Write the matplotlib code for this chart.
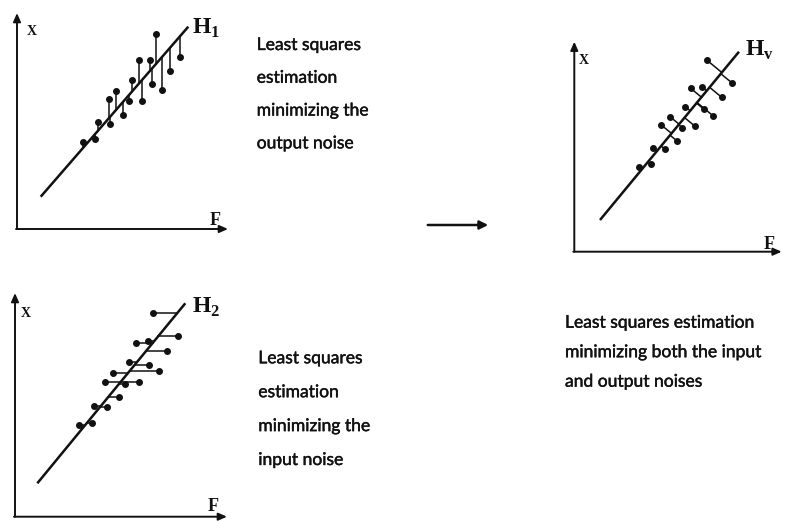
import numpy as np
import matplotlib
matplotlib.use("Agg")
from matplotlib import pyplot as plt
import matplotlib.patheffects as pe

W, H = 799, 521

# Panel 1: least squares on output noise (vertical residuals)
p1_line_f = [23.7, 171.3]
p1_line_x = [32.3, 202.3]
p1_f = [65.7, 78.0, 80.7, 91.7, 93.0, 99.3, 106.3, 112.3, 115.3, 122.3, 124.7, 133.0, 135.0, 138.7, 144.7, 153.0, 163.3]
p1_x = [87.3, 89.7, 106.7, 130.0, 104.7, 138.0, 114.0, 128.0, 149.0, 169.0, 128.3, 169.0, 145.0, 195.0, 139.0, 158.0, 172.3]

# Panel 2: least squares on input noise (horizontal residuals)
p2_line_f = [22.3, 170.3]
p2_line_x = [33.4, 213.4]
p2_f = [64.3, 76.7, 79.3, 92.3, 104.3, 90.0, 123.7, 110.0, 98.3, 144.3, 114.3, 134.0, 151.7, 121.0, 133.3, 162.7, 137.7]
p2_x = [91.7, 93.4, 110.7, 110.0, 119.4, 134.7, 134.7, 132.4, 143.4, 146.0, 154.4, 151.7, 165.7, 174.0, 175.7, 180.7, 203.4]

# Panel 3: both noises (orthogonal residuals)
p3_line_f = [25.7, 164.7]
p3_line_x = [31.7, 200.0]
p3_f = [64.4, 76.7, 78.4, 90.4, 87.0, 102.4, 95.7, 108.0, 111.0, 120.4, 116.4, 129.7, 127.4, 139.0, 132.4, 147.4, 157.4]
p3_x = [85.0, 87.4, 104.0, 102.7, 126.7, 111.0, 135.0, 124.0, 145.0, 125.7, 163.4, 142.4, 165.0, 135.7, 191.7, 154.4, 169.0]

captions = [
    ["Least squares", "estimation", "minimizing the", "output noise"],
    ["Least squares", "estimation", "minimizing the", "input noise"],
    ["Least squares estimation", "minimizing both the input", "and output noises"],
]

ink = "#111111"
serif = ["Liberation Serif", "DejaVu Serif"]
sans = ["Lato", "DejaVu Sans"]
thick = [pe.withStroke(linewidth=0.3, foreground=ink)]

fig = plt.figure(figsize=(W / 100, H / 100), dpi=100)
fig.patch.set_facecolor("white")


def make_axes(ox, oy, xmin, xmax, ymin, ymax):
    # 1 data unit = 1 pixel, origin of the panel at pixel (ox, oy) from top-left
    rect = [(ox + xmin) / W, (H - oy + ymin) / H, (xmax - xmin) / W, (ymax - ymin) / H]
    ax = fig.add_axes(rect)
    ax.set_xlim(xmin, xmax)
    ax.set_ylim(ymin, ymax)
    ax.axis("off")
    return ax


def draw_panel(ax, fmax, xmax, lf, lx, pf, px, mode, sub, lab_pos):
    arr = dict(arrowstyle="-|>,head_length=0.5,head_width=0.22", lw=1.4, color=ink,
               shrinkA=0, shrinkB=0)
    ax.annotate("", xy=(0, xmax), xytext=(0, 0), arrowprops=arr)
    ax.annotate("", xy=(fmax, 0), xytext=(-1, 0), arrowprops=arr)
    ax.plot(lf, lx, color=ink, lw=1.8, solid_capstyle="butt")

    pf = np.asarray(pf)
    px = np.asarray(px)
    slope = (lx[1] - lx[0]) / (lf[1] - lf[0])
    if mode == "v":
        qf = pf
        qx = lx[0] + (pf - lf[0]) * slope
    elif mode == "h":
        qx = px
        qf = lf[0] + (px - lx[0]) / slope
    else:
        d = np.array([lf[1] - lf[0], lx[1] - lx[0]])
        d = d / np.hypot(*d)
        t = (pf - lf[0]) * d[0] + (px - lx[0]) * d[1]
        qf = lf[0] + t * d[0]
        qx = lx[0] + t * d[1]
    for a, b, c, e in zip(pf, px, qf, qx):
        ax.plot([a, c], [b, e], color=ink, lw=1.1)
    ax.plot(pf, px, "o", color=ink, ms=4, mec=ink)

    (xl, xv), (fl, fv), (hl, hv) = lab_pos
    ax.text(xl, xv, "X", family=serif, fontsize=10, fontweight="bold", color=ink,
            ha="center", va="center")
    ax.text(fl, fv, "F", family=serif, fontsize=13, fontweight="bold", color=ink,
            ha="center", va="center")
    ax.text(hl, hv, "H$_\\mathregular{" + sub + "}$", family=serif, fontsize=17,
            fontweight="bold", color=ink, ha="left", va="center")


ax1 = make_axes(17, 229, -10, 222, -8, 224)
draw_panel(ax1, 211, 216, p1_line_f, p1_line_x, p1_f, p1_x, "v", "1",
           [(14.7, 197.3), (198, 8.5), (175.5, 201)])

ax2 = make_axes(15, 516.7, -10, 225, -4, 230)
draw_panel(ax2, 212, 223.7, p2_line_f, p2_line_x, p2_f, p2_x, "h", "2",
           [(11, 203.4), (198.3, 10.0), (176.5, 209)])

ax3 = make_axes(574.3, 251.7, -10, 222, -8, 224)
draw_panel(ax3, 207.4, 210, p3_line_f, p3_line_x, p3_f, p3_x, "o", "v",
           [(9.7, 191.7), (195, 7.5), (170.5, 201)])

# captions, one text per line (pixel positions from the top)
caption_pos = [(256.7, 45, 32.8), (258.3, 358.3, 33.9), (565, 322.7, 29.5)]
for lines, (x0, y0, dy) in zip(captions, caption_pos):
    for i, line in enumerate(lines):
        fig.text(x0 / W, 1 - (y0 + i * dy) / H, line, family=sans, fontsize=12.6,
                 color=ink, ha="left", va="center", path_effects=thick)

# arrow between panels
fig.patches.append(matplotlib.patches.FancyArrowPatch(
    (425 / W, 1 - 225 / H), (491 / W, 1 - 225 / H), transform=fig.transFigure,
    arrowstyle="-|>,head_length=5,head_width=2.5", lw=1.8, color=ink))

plt.savefig("out.png", dpi=100, facecolor="white")
